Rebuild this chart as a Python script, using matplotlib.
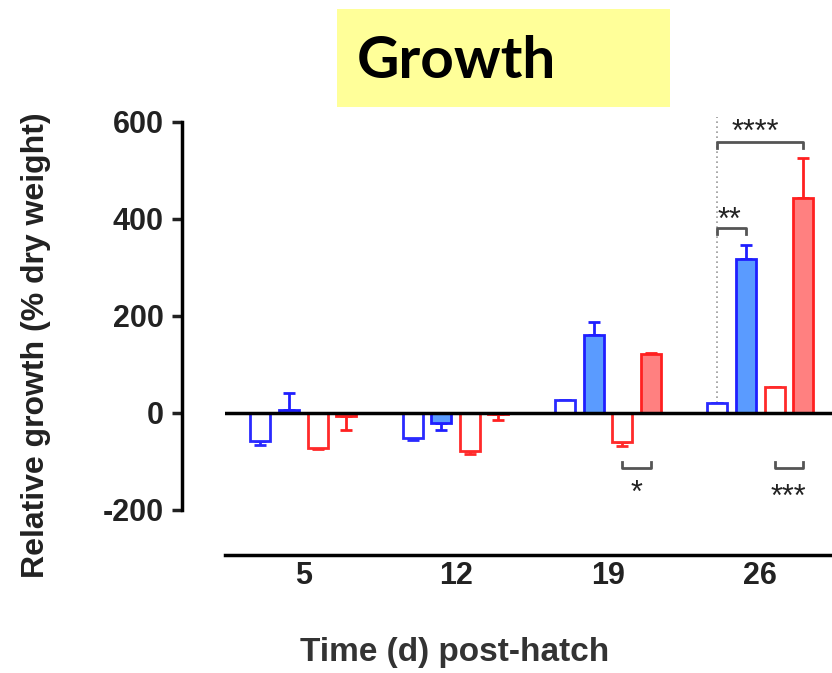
import numpy as np
import matplotlib.pyplot as plt
from matplotlib.patches import Rectangle

plt.rcParams["font.family"] = ["Liberation Sans", "DejaVu Sans"]
plt.rcParams["axes.unicode_minus"] = False

days = [5, 12, 19, 26]
series = ["blue_open", "blue_filled", "red_open", "red_filled"]
means = {
    "blue_open":   [-58, -52, 27, 21],
    "blue_filled": [5, -21, 161, 318],
    "red_open":    [-72, -78, -60, 54],
    "red_filled":  [-6, -3, 121, 443],
}
sems = {
    "blue_open":   [8, 3, 0, 0],
    "blue_filled": [36, 14, 27, 28],
    "red_open":    [3, 6, 8, 0],
    "red_filled":  [30, 12, 2, 83],
}
yticks = [-200, 0, 200, 400, 600]

styles = {
    "blue_open":   dict(face="white", edge="#2a2aff"),
    "blue_filled": dict(face="#5a9bff", edge="#1f1fff"),
    "red_open":    dict(face="white", edge="#ff2a2a"),
    "red_filled":  dict(face="#ff8080", edge="#ff2020"),
}
offsets = [-1.97, -0.66, 0.66, 1.97]
width = 0.92

W, H = 832, 673
fig = plt.figure(figsize=(W / 100, H / 100), dpi=100)
ax = fig.add_axes([225 / W, 1 - 555 / H, (W - 225) / W, 455 / H])

for s, off in zip(series, offsets):
    st = styles[s]
    x = np.array(days) + off
    m = np.array(means[s])
    e = np.array(sems[s])
    ax.bar(x, m, width=width, facecolor=st["face"], edgecolor=st["edge"],
           linewidth=2, zorder=2)
    lower = np.where(m < 0, e, 0)
    upper = np.where(m >= 0, e, 0)
    ax.errorbar(x, m, yerr=[lower, upper], fmt="none", ecolor=st["edge"],
                elinewidth=2, capsize=4, capthick=2, zorder=1)

ax.axhline(0, color="black", lw=2.5, zorder=3)

ax.set_xlim(1.4, 29.3)
ax.set_ylim(-293, 645)

# significance annotations
x_ref = 26 + offsets[0]
ax.plot([x_ref, x_ref], [0, 610], ls=(0, (1, 2)), color="#999999", lw=1.2, zorder=0)
gray = "#555555"


def bracket(x0, x1, y, down=True, text="", tx=0, ty=0, ha="center"):
    d = -12 if down else 12
    ax.plot([x0, x0, x1, x1], [y + d, y, y, y + d], color=gray, lw=2, zorder=4)
    ax.text(tx, ty, text, ha=ha, va="center", fontsize=22, color="#222222")


bracket(x_ref, 26 + offsets[3], 559, True, "****", x_ref + 0.67, 577, "left")
bracket(x_ref, 26 + offsets[1], 381, True, "**", x_ref, 396, "left")
bracket(19 + offsets[2], 19 + offsets[3], -113, False, "*", 19 + 1.31, -167)
bracket(26 + offsets[2], 26 + offsets[3], -113, False, "***", 26 + 1.31, -175)

for side in ["top", "right"]:
    ax.spines[side].set_visible(False)
ax.spines["left"].set_position(("outward", 31))
ax.spines["left"].set_bounds(-200, 600)
ax.spines["left"].set_linewidth(2.5)
ax.spines["bottom"].set_linewidth(2.5)

ax.set_yticks(yticks)
ax.set_xticks(days)
ax.tick_params(axis="y", length=7, width=2.5, pad=6, labelsize=22, colors="#222222")
ax.tick_params(axis="x", length=0, pad=4, labelsize=22, colors="#222222")
for lab in ax.get_xticklabels() + ax.get_yticklabels():
    lab.set_fontweight("bold")

ax.set_ylabel("Relative growth (% dry weight)", fontsize=23, fontweight="bold",
              color="#222222")
ax.yaxis.set_label_coords(-0.287, 0.462)
ax.set_xlabel("Time (d) post-hatch", fontsize=24, fontweight="bold",
              color="#333333")
ax.xaxis.set_label_coords(0.379, -0.180)

fig.patches.append(Rectangle((337 / W, 1 - 107 / H), (670 - 337) / W, 98 / H,
                             transform=fig.transFigure, facecolor="#ffff99",
                             edgecolor="none", zorder=0))
fig.text(357 / W, 1 - 61 / H, "Growth", fontsize=42, fontweight="bold",
         family="Lato", ha="left", va="center")

fig.savefig("out.png", dpi=100)
